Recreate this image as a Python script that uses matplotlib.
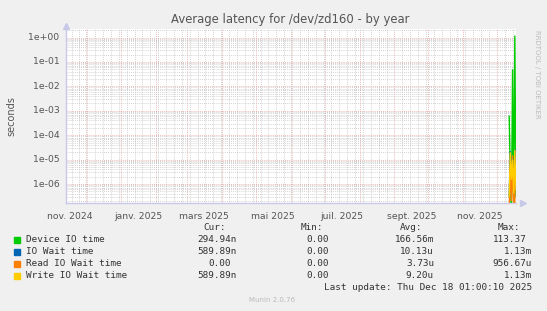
import matplotlib
matplotlib.use("Agg")
import matplotlib.pyplot as plt
import matplotlib.dates as mdates
import numpy as np
from datetime import datetime

# data
start = datetime(2024, 11, 13, 1, 0)
end = datetime(2025, 12, 18, 1, 0)

days = [datetime(2025, 12, d) for d in range(11, 19)]
nan = np.nan
device_io = [nan, 6e-4, 2e-6, 1e-7, 5e-2, 1.5e-7, 1.2, 2.95e-7]
io_wait = [nan, 3e-7, 2.2e-5, 1.6e-6, 1.2e-5, 4e-7, 2.6e-5, 5.9e-7]
read_io = [nan, 1e-7, 5e-6, 2e-7, 1.5e-5, 1e-7, 7e-6, 0.0]
write_io = [nan, 3e-7, 2e-5, 1.5e-6, 1e-5, 4e-7, 2.5e-5, 5.9e-7]

series_names = ["Device IO time", "IO Wait time", "Read IO Wait time", "Write IO Wait time"]
series_colors = ["#00CC00", "#0066B3", "#FF8000", "#FFCC00"]
cur = ["294.94n", "589.89n", "0.00", "589.89n"]
mins = ["0.00", "0.00", "0.00", "0.00"]
avgs = ["166.56m", "10.13u", "3.73u", "9.20u"]
maxs = ["113.37", "1.13m", "956.67u", "1.13m"]

month_labels = ["nov. 2024", "janv. 2025", "mars 2025", "mai 2025",
                "juil. 2025", "sept. 2025", "nov. 2025"]
label_dates = [datetime(2024, 11, 16), datetime(2025, 1, 16), datetime(2025, 3, 16),
               datetime(2025, 5, 16), datetime(2025, 7, 16), datetime(2025, 9, 16),
               datetime(2025, 11, 16)]
ytick_vals = [1e0, 1e-1, 1e-2, 1e-3, 1e-4, 1e-5, 1e-6]
ytick_labels = ["1e+00", "1e-01", "1e-02", "1e-03", "1e-04", "1e-05", "1e-06"]

W, H = 547, 311
fig = plt.figure(figsize=(W / 100, H / 100), dpi=100, facecolor="#F0F0F0")

def fx(px):
    return px / W

def fy(py):
    return 1 - py / H

ax = fig.add_axes([fx(66), fy(203), fx(516) - fx(66), (203 - 29) / H])
ax.set_facecolor("white")

for vals, col in zip([device_io, io_wait, read_io, write_io], series_colors):
    ax.plot(days, vals, color=col, lw=1.0, solid_joinstyle="miter")

ax.set_yscale("log")
ax.set_ylim(1.67e-7, 2.23)
ax.set_xlim(start, end)

# grid like rrdtool: gray minor, red major
ax.xaxis.set_major_locator(mdates.MonthLocator())
ax.xaxis.set_minor_locator(mdates.WeekdayLocator(byweekday=mdates.MO))
ax.yaxis.set_major_locator(matplotlib.ticker.LogLocator(base=10, numticks=20))
ax.yaxis.set_minor_locator(matplotlib.ticker.LogLocator(base=10, subs=np.arange(2, 10), numticks=20))
ax.grid(which="minor", color="#c4c4c4", lw=0.6, ls=(0, (1, 1.5)))
ax.grid(which="major", color="#e8a0a0", lw=0.6, ls=(0, (1, 1.5)))
ax.set_axisbelow(True)
ax.tick_params(which="both", length=0, labelbottom=False, labelleft=False)

for s in ["top", "right"]:
    ax.spines[s].set_visible(False)
for s in ["left", "bottom"]:
    ax.spines[s].set_color("#c8c8e8")
    ax.spines[s].set_linewidth(1.0)

# axis arrows
ax.plot([0], [1.02], marker="^", color="#c8c8e8", ms=4, transform=ax.transAxes, clip_on=False)
ax.plot([1.015], [0], marker=">", color="#c8c8e8", ms=4, transform=ax.transAxes, clip_on=False)

# tick labels
for d, lab in zip(label_dates, month_labels):
    ax.text(d, -0.05, lab, transform=ax.get_xaxis_transform(), ha="center", va="top",
            fontsize=6.7, color="#555555")
for v, lab in zip(ytick_vals, ytick_labels):
    ax.text(-0.015, v, lab, transform=ax.get_yaxis_transform(), ha="right", va="center",
            fontsize=6.7, color="#555555")

fig.text(fx(290), fy(19), "Average latency for /dev/zd160 - by year", ha="center", va="center",
         fontsize=8.4, color="#555555")
fig.text(fx(11), fy(116), "seconds", rotation=90, ha="center", va="center",
         fontsize=7, color="#555555")
fig.text(fx(537), fy(30), "RRDTOOL / TOBI OETIKER", rotation=270, ha="center", va="top",
         fontsize=5, color="#bbbbbb")

# legend block
mono = "DejaVu Sans Mono"
fs = 6.75
txt = "#333333"
fig.text(fx(226), fy(228), "Cur:", ha="right", va="center", family=mono, fontsize=fs, color=txt)
fig.text(fx(323), fy(228), "Min:", ha="right", va="center", family=mono, fontsize=fs, color=txt)
fig.text(fx(422), fy(228), "Avg:", ha="right", va="center", family=mono, fontsize=fs, color=txt)
fig.text(fx(520), fy(228), "Max:", ha="right", va="center", family=mono, fontsize=fs, color=txt)

cw = 5.64
def right_edge(base, s):
    # strings without a unit suffix end one character earlier
    return base if s[-1].isalpha() else base - cw

rows_y = [240, 252, 264, 276]
for i, yy in enumerate(rows_y):
    fig.patches.append(matplotlib.patches.Rectangle((fx(14), fy(yy + 3)), 6 / W, 6 / H,
                                                    transform=fig.transFigure,
                                                    color=series_colors[i]))
    fig.text(fx(26), fy(yy), series_names[i], ha="left", va="center", family=mono,
             fontsize=fs, color=txt)
    for base, col in [(237, cur), (335, mins), (434, avgs), (532, maxs)]:
        s = col[i]
        fig.text(fx(right_edge(base, s)), fy(yy), s, ha="right", va="center", family=mono,
                 fontsize=fs, color=txt)

fig.text(fx(532), fy(288), "Last update: Thu Dec 18 01:00:10 2025", ha="right", va="center",
         family=mono, fontsize=fs, color=txt)
fig.text(fx(272), fy(300), "Munin 2.0.76", ha="center", va="center", fontsize=5,
         color="#bbbbbb")

fig.savefig("out.png", dpi=100, facecolor=fig.get_facecolor())
